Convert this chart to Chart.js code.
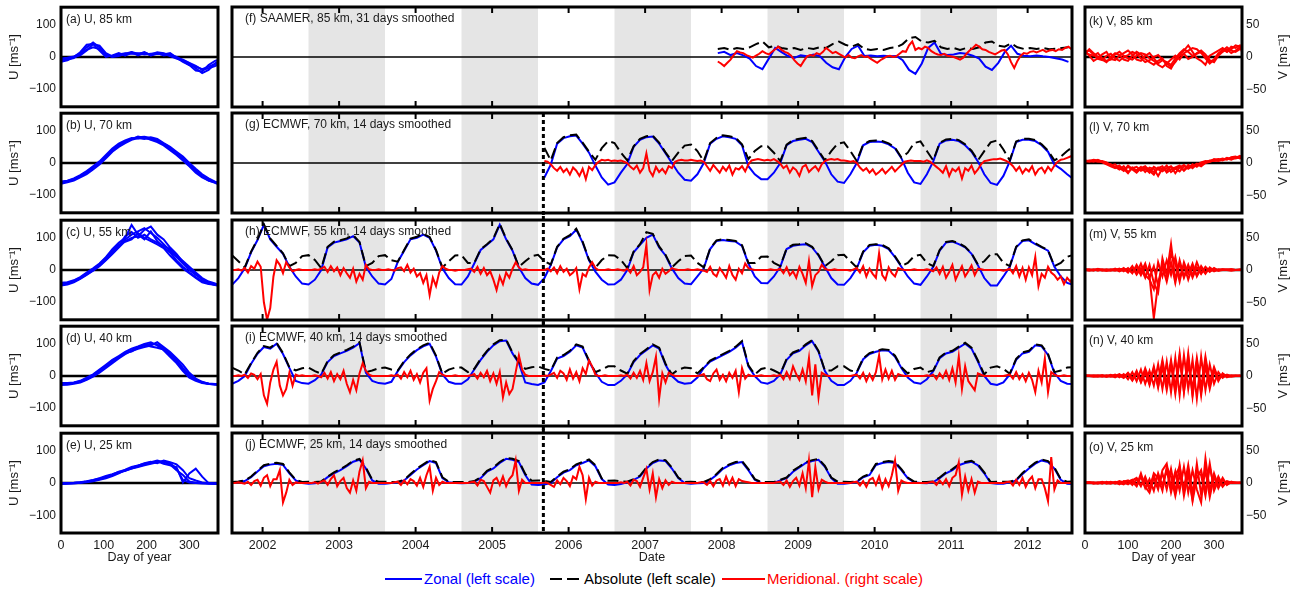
<!DOCTYPE html>
<html>
<head>
<meta charset="utf-8">
<script src="https://cdn.jsdelivr.net/npm/chart.js@4.4.0/dist/chart.umd.min.js"></script>
<style>
  body { margin: 0; background: #fff; }
  #fig { position: relative; width: 1299px; height: 593px; overflow: hidden; font-family: 'Liberation Sans', Arial, Helvetica, sans-serif; }
  #fig canvas { position: absolute; }
  .ls { position: absolute; height: 2px; }
  .lt { position: absolute; font-size: 15px; line-height: 18px; white-space: nowrap; }
</style>
</head>
<body>
<div id="fig">
  <div class="ls" style="left:385px;top:578px;width:37px;background:#0000ff"></div>
  <div class="lt" style="left:424px;top:570px;color:#0000ff">Zonal (left scale)</div>
  <div class="ls" style="left:550px;top:578px;width:29px;background:repeating-linear-gradient(90deg,#000 0 12px,transparent 12px 17px)"></div>
  <div class="lt" style="left:584px;top:570px;color:#000">Absolute (left scale)</div>
  <div class="ls" style="left:722px;top:578px;width:43px;background:#ff0000"></div>
  <div class="lt" style="left:767px;top:570px;color:#ff0000">Meridional. (right scale)</div>
</div>
<script>
// ================================
// DATA
// ================================

// time axis (year ticks), shaded years, start of the ECMWF 70 km record
const yearTicks = [2002, 2003, 2004, 2005, 2006, 2007, 2008, 2009, 2010, 2011, 2012];
const shadeStarts = [2002.6, 2004.6, 2006.6, 2008.6, 2010.6];
const splitYear = 2005.67;

// sampling of the time series: zonal/absolute monthly, meridional half-monthly
const ecmwfStart = 2001.6;
const ecmwf70Start = 2005.6833;
const saamerStart = 2007.95;
const monthStep = 1 / 12;
const halfMonthStep = 1 / 24;

// day-of-year grids for the side panels
const doyU = [0, 15, 30, 45, 60, 75, 90, 105, 120, 135, 150, 165, 180, 195, 210, 225, 240, 255, 270, 285, 300, 315, 330, 345, 360, 365];
const doyV = [0, 10, 20, 30, 40, 50, 60, 70, 80, 90, 100, 110, 120, 130, 140, 150, 160, 170, 180, 190, 200, 210, 220, 230, 240, 250, 260, 270, 280, 290, 300, 310, 320, 330, 340, 350, 360, 365];

// (a)-(e) zonal wind by day of year, several years overlaid
const u85 = [
  [-12,-8,-3,10,30,45,30,5,2,8,12,10,12,8,10,12,5,8,0,-10,-20,-35,-50,-40,-20,-15],
  [-15,-10,0,15,38,40,20,0,5,12,5,15,10,14,5,12,10,3,-5,-12,-25,-30,-38,-30,-22,-20],
  [-5,-2,2,10,22,30,25,8,0,3,10,15,5,12,8,15,12,5,-3,-8,-18,-28,-40,-35,-28,-25],
  [-10,-5,0,5,20,40,35,12,2,10,5,12,8,15,5,10,8,12,-2,-15,-25,-42,-45,-25,-12,-10]
];
const u70 = [
  [-62,-58,-52,-42,-30,-15,0,20,40,55,68,75,80,82,78,70,60,48,30,15,-5,-22,-40,-52,-60,-62],
  [-58,-55,-48,-38,-25,-10,5,25,45,60,70,78,76,80,72,65,55,40,25,8,-10,-30,-45,-55,-62,-65],
  [-65,-60,-55,-45,-35,-20,-5,15,35,50,62,72,78,75,80,75,62,50,35,20,0,-18,-35,-48,-58,-60],
  [-60,-56,-50,-40,-28,-12,2,18,38,58,66,74,82,78,74,68,58,45,28,10,-8,-25,-42,-55,-60,-63]
];
const u55 = [
  [-45,-42,-35,-25,-12,0,15,35,55,75,95,110,120,130,115,100,80,60,40,20,0,-15,-28,-38,-44,-45],
  [-40,-38,-32,-22,-8,5,20,40,65,85,100,140,110,95,120,90,70,55,30,10,-8,-22,-35,-42,-46,-46],
  [-48,-45,-38,-28,-15,-2,12,30,50,70,90,100,105,125,135,110,95,70,50,25,5,-12,-30,-40,-47,-48],
  [-44,-40,-33,-24,-10,3,18,38,60,78,88,95,115,100,90,80,68,45,25,5,-10,-25,-38,-44,-46,-44],
  [-46,-43,-36,-26,-14,-1,14,32,52,72,105,118,100,110,95,85,75,65,45,28,10,-8,-25,-36,-42,-45]
];
const u40 = [
  [-25,-24,-22,-18,-10,0,15,30,45,60,70,80,90,95,100,98,85,70,50,25,5,-10,-20,-24,-25,-25],
  [-22,-22,-20,-15,-5,5,20,35,50,62,75,85,92,100,105,95,80,60,40,15,-5,-15,-22,-25,-26,-24],
  [-28,-27,-24,-20,-12,-2,10,25,40,55,68,78,85,90,95,105,90,75,55,35,10,-8,-18,-24,-27,-28],
  [-24,-23,-21,-16,-8,3,18,32,48,58,72,76,88,98,92,88,82,65,45,20,0,-12,-20,-23,-25,-25]
];
const u25 = [
  [-2,-1,0,2,4,8,12,18,25,32,38,45,50,55,60,65,68,62,45,10,2,0,-1,-2,-2,-3],
  [0,0,1,3,6,10,15,22,28,35,42,50,55,60,65,70,65,58,40,25,5,1,0,0,-1,0],
  [-3,-2,-1,1,3,6,10,15,22,30,40,45,52,58,62,68,60,55,50,2,30,45,20,0,-2,-2],
  [-1,0,0,2,5,9,14,20,26,35,38,48,54,62,66,62,70,65,58,40,15,8,2,-1,-1,-2]
];

// (k)-(o) meridional wind by day of year
const v85 = [
  [8,10,4,-3,-5,2,5,-2,-6,0,3,8,5,-2,-8,-5,0,3,-4,-10,-15,-8,2,5,-3,0,6,10,4,-5,-8,2,8,12,6,10,15,12],
  [5,12,6,0,-4,-8,0,6,3,-4,-6,2,8,4,-3,-8,-12,-6,-2,-14,-18,-6,4,10,18,8,-2,-6,-12,2,6,10,14,8,12,18,16,10],
  [10,2,-6,-2,4,8,-3,-5,2,6,10,4,-4,-6,2,6,-2,-10,-5,-8,-12,-2,6,12,8,2,5,8,-2,-10,-4,6,10,15,10,8,12,14],
  [6,4,2,6,-2,-6,-4,4,8,2,-2,-4,2,6,4,-2,-6,-12,-16,-10,-4,2,-4,6,10,14,12,6,0,-8,-4,4,12,8,16,14,18,8]
];
const v70 = [
  [3,2,4,3,1,-2,-5,-8,-4,-12,-6,-10,-15,-8,-5,-12,-18,-7,-10,-4,-14,-9,-6,-11,-3,-8,-2,-5,0,2,4,3,5,6,8,7,9,10],
  [4,3,2,5,2,0,-3,-6,-10,-5,-14,-8,-6,-12,-9,-15,-6,-10,-13,-8,-5,-16,-7,-3,-9,-5,-1,-3,2,3,5,6,4,8,6,9,8,12],
  [2,4,3,2,3,1,-4,-2,-8,-12,-4,-9,-11,-6,-14,-7,-9,-20,-8,-12,-6,-9,-13,-5,-8,-2,-6,0,1,4,3,5,7,5,9,10,7,8],
  [3,3,5,4,2,-1,-2,-7,-5,-9,-16,-7,-12,-10,-7,-10,-14,-8,-5,-15,-10,-7,-4,-12,-6,-4,-3,1,3,2,6,4,6,7,5,8,11,9]
];
const v55 = [
  [0,1,-1,2,0,-1,1,0,2,-2,3,-4,5,-8,6,-10,-75,-20,8,-6,40,-15,10,-12,6,-8,12,-5,4,-3,2,-1,1,0,1,0,0,0],
  [1,0,1,-1,1,0,-1,2,-1,3,-3,6,-5,10,-8,-15,-30,12,-10,15,-8,20,-12,8,-15,5,-8,6,-4,2,-2,1,0,1,0,0,1,0],
  [0,-1,0,1,-1,1,0,-1,1,2,-4,4,-7,3,-12,8,-20,-35,18,-8,25,10,-18,12,-6,10,-10,3,-6,4,-1,0,1,0,-1,0,0,0],
  [1,0,0,1,0,-1,0,1,-2,1,2,-5,8,-4,10,-12,6,-25,5,-18,12,-20,15,-10,8,-12,4,-6,5,-2,3,-1,0,0,1,0,0,1]
];
const v40 = [
  [0,1,0,-1,1,0,2,-1,1,-3,4,-6,8,-10,5,-12,15,-18,20,-15,25,-22,30,-25,35,-28,20,-30,25,-15,10,-8,4,-2,1,0,0,0],
  [1,0,-1,0,1,-1,0,2,-2,3,-5,6,-8,10,-12,8,-15,18,-20,22,-25,28,-30,32,-20,25,-35,30,-22,18,-12,6,-3,2,0,1,0,0],
  [0,0,1,0,-1,1,-1,0,3,-2,5,-4,6,-9,12,-6,10,-16,14,-22,18,-28,25,-18,30,-32,22,-25,15,-20,8,-5,2,-1,0,0,1,0],
  [1,0,0,1,0,-1,1,-2,2,-1,3,-7,4,-5,9,-14,12,-10,25,-12,20,-18,35,-24,18,-20,28,-18,30,-10,14,-4,3,0,-1,0,0,0]
];
const v25 = [
  [0,1,0,1,-1,2,0,1,-2,3,2,5,-4,15,-6,-15,8,-10,20,30,-8,18,-12,25,-15,20,-10,-30,38,-12,15,-5,8,-3,2,0,1,0],
  [1,0,1,-1,1,0,2,-1,1,2,4,-3,6,-5,10,-8,12,-6,15,-10,22,-14,28,-20,15,-25,30,-18,20,-22,10,-8,5,-2,1,0,0,0],
  [0,1,-1,0,2,-1,1,0,3,1,-2,4,8,-3,5,-10,15,8,-12,25,10,-20,12,-8,28,-15,18,12,-20,25,-6,10,-4,3,1,0,0,1],
  [1,1,0,0,1,0,-1,2,0,-2,3,2,-5,10,-8,6,-12,15,-4,20,-15,12,25,-10,18,-28,8,20,-14,30,-12,5,-6,2,0,1,0,0]
];

// (f) SAAMER 85 km, from saamerStart
const zonal85 = [12,16,6,12,5,-5,-28,-38,-5,28,15,3,-3,5,2,8,3,-18,-32,-38,0,25,35,3,5,2,4,2,3,-10,-40,-52,-20,28,45,10,6,8,12,10,4,-5,-30,-40,-18,15,35,10,4,2,5,2,0,-4,-8,-15];
const absolute85 = [25,28,22,28,25,30,40,48,30,35,28,25,28,22,28,25,30,28,40,48,38,32,40,25,22,25,22,28,30,40,58,62,48,45,50,30,25,28,22,28,25,30,45,48,35,32,42,30,25,28,25,28,24,26,28,30];
const meridional85 = [-7,-10,-14,-9,-4,3,9,7,6,3,1,-1,2,5,9,6,4,8,12,16,11,8,6,2,-5,-10,-14,-6,1,3,2,6,4,8,14,10,6,8,5,2,-1,3,-1,-2,1,3,0,1,-3,-6,-9,-5,-2,1,2,0,1,5,9,8,18,24,11,14,12,16,14,9,6,4,3,5,2,1,0,-2,-4,-1,5,10,14,19,16,12,11,8,6,4,7,10,11,4,-8,-17,-6,2,6,5,8,9,7,9,11,8,10,11,9,12,11,14,16,12];

// (g) ECMWF 70 km, from ecmwf70Start
const zonal70 = [
  -45,-5,60,77,83,85,60,32,-8,-45,-67,
  -60,-30,-3,50,72,80,82,60,30,0,-30,-52,
  -55,-35,0,60,75,83,80,75,55,-10,-35,-50,
  -50,-30,0,55,68,72,75,65,35,5,-35,-58,
  -62,-35,0,55,65,67,65,58,45,15,-30,-60,
  -65,-35,5,60,70,72,68,55,35,5,-35,-62,
  -68,-40,5,65,72,72,68,55,35,-5,-18,-35,
  -50];
const absolute70 = [
  47,8,62,80,86,88,63,35,10,46,68,
  62,32,8,52,75,83,85,63,33,6,32,54,
  57,37,6,62,78,86,83,78,58,12,37,52,
  52,32,6,57,71,75,78,68,38,8,37,60,
  64,37,6,57,68,70,68,61,48,17,32,62,
  67,37,8,62,73,75,71,58,38,8,37,64,
  70,42,8,67,75,75,71,58,38,8,20,37,
  52];
const meridional70 = [
  3,2,-2,-8,-12,-6,-14,-9,-18,-7,-12,-20,-9,-25,-6,-11,-3,2,5,4,5,3,
  4,3,4,2,0,-6,-10,-4,-15,-8,15,-12,-20,-6,-14,-9,-16,-5,-8,2,4,5,4,4,
  5,4,3,4,2,-5,-12,-3,-9,-15,-6,-12,-4,-18,-8,-10,-5,-13,-2,4,5,6,5,4,
  5,4,6,3,-1,-8,-4,-15,-7,-11,-20,-6,-3,-14,-9,-5,-12,-2,3,5,6,5,6,4,
  4,3,2,3,0,-7,-12,-8,-15,-10,-18,-14,-9,-16,-11,-6,-13,-8,-3,2,3,4,3,3,
  3,2,4,2,-2,-6,-10,-15,-5,-20,-9,-13,-7,-24,-8,-12,-4,-16,-10,-2,3,4,5,6,
  6,7,5,3,0,-5,-12,-6,-16,-9,-13,-5,-18,-10,-7,-15,-6,-12,-4,2,5,6,8,10,
  12];

// (h) ECMWF 55 km, from ecmwfStart
const zonal55 = [
  -46,-25,5,55,93,140,95,72,50,10,-20,-42,
  -45,-30,0,70,85,90,95,105,85,10,-20,-42,
  -45,-28,25,60,95,100,110,100,60,5,-25,-44,
  -45,-20,20,62,78,95,140,95,60,8,-25,-42,
  -46,-25,15,70,95,105,125,85,30,-5,-30,-45,
  -44,-30,0,55,78,100,110,70,45,5,-25,-42,
  -44,-20,5,65,90,93,90,88,75,20,-20,-40,
  -41,-20,10,65,75,78,80,70,45,10,-25,-45,
  -46,-25,5,55,75,78,75,65,40,10,-20,-42,
  -46,-20,10,60,85,88,80,70,50,15,-25,-48,
  -48,-20,10,70,90,92,80,70,60,10,-20,-40,
  -46];
const absolute55 = [
  46,27,8,57,95,142,98,75,52,12,22,43,
  46,31,6,72,88,92,98,108,87,12,22,43,
  46,30,26,62,97,103,112,102,62,8,27,45,
  46,22,22,64,80,98,143,97,62,10,27,43,
  47,27,17,72,97,108,128,88,32,7,31,46,
  45,31,6,57,80,117,112,73,47,8,27,43,
  45,22,8,67,92,95,93,90,77,22,22,41,
  42,22,12,67,78,80,83,72,47,12,27,46,
  47,27,8,57,78,80,78,67,42,12,22,43,
  47,22,12,62,87,90,83,72,52,17,27,49,
  49,22,12,72,92,95,83,72,62,12,22,41,
  47];
const meridional55 = [
  0,0,1,-1,3,-4,6,2,13,5,-50,-77,-59,-10,15,8,-5,12,4,-2,0,1,0,0,
  0,0,1,0,2,5,-3,6,-2,4,-8,3,-5,-12,2,-18,-6,-15,8,1,0,0,1,0,
  0,1,0,-1,3,4,-2,8,-4,2,-10,-5,-20,-8,-39,-12,-25,-4,6,2,0,0,-1,0,
  0,0,1,2,-3,5,-6,3,-8,-2,-15,-31,-10,-22,-4,-12,2,12,4,0,1,0,0,0,
  0,0,0,2,-2,4,-5,6,-3,2,-8,-4,3,-30,-6,-10,4,12,3,0,0,0,1,0,
  0,1,0,-1,2,-4,6,-8,-3,4,39,-31,-8,-3,-12,2,-6,-2,3,1,0,0,0,1,
  0,0,1,0,-1,-3,5,-6,-10,3,-4,-12,6,-8,-15,2,-5,10,3,1,0,0,0,0,
  0,1,0,0,2,-5,4,-8,-2,-12,5,-6,-20,14,-25,-8,-3,8,2,0,0,1,0,0,
  0,0,-1,1,3,-4,6,-10,2,-6,-12,26,-8,-15,4,-5,-10,3,1,0,0,0,1,0,
  0,0,1,0,-2,4,-6,5,-12,-3,8,-15,-4,6,-10,-2,7,-8,2,1,0,0,0,0,
  0,0,-1,0,2,-5,6,-10,3,-15,4,-8,20,-25,-6,-12,5,-4,-8,-15,-10,-22,-12,-18,
  -10];

// (i) ECMWF 40 km, from ecmwfStart
const zonal40 = [
  -24,-15,0,38,69,90,85,100,68,25,-15,-22,
  -24,-13,5,43,62,70,78,88,102,10,-15,-22,
  -24,-18,15,43,64,80,92,100,60,5,-18,-24,
  -24,-10,20,50,75,95,108,110,70,40,-20,-25,
  -28,-20,15,54,62,75,95,88,45,10,-18,-28,
  -28,-15,5,43,65,80,95,85,35,0,-18,-24,
  -22,-5,25,45,55,65,75,88,105,30,0,-20,
  -24,-15,5,50,70,78,95,108,75,15,-15,-28,
  -28,-15,10,52,68,75,80,78,60,25,-5,-20,
  -24,-10,15,55,70,75,88,100,85,45,0,-24,
  -28,-20,5,50,70,75,95,92,65,10,-15,-24,
  -25];
const absolute40 = [
  26,17,5,40,72,93,88,103,71,27,17,24,
  26,15,7,46,65,73,81,91,105,12,17,24,
  26,20,17,46,67,83,95,103,63,7,20,26,
  26,12,22,53,78,98,111,113,73,43,22,27,
  30,22,17,57,65,78,98,91,48,12,20,30,
  30,17,7,46,68,83,98,88,38,5,20,26,
  24,8,27,48,58,68,78,91,108,33,5,22,
  26,17,7,53,73,81,98,111,78,17,17,30,
  30,17,12,55,71,78,83,81,63,27,8,22,
  26,12,17,58,73,78,91,103,88,48,5,26,
  30,22,7,53,73,78,98,95,68,12,17,26,
  27];
const meridional40 = [
  0,0,1,0,2,-3,4,2,-5,3,-30,-43,-10,10,22,-15,-30,-20,5,-15,2,0,1,0,
  0,0,1,0,-2,5,-4,6,-8,3,-5,8,-12,-25,-6,-22,4,20,8,2,0,0,0,0,
  0,0,1,0,2,-4,6,-2,8,-6,3,-10,5,12,-38,-20,-8,6,2,0,0,0,1,0,
  0,0,0,1,3,-4,5,-2,8,-8,4,-12,6,-33,-10,-28,-20,6,32,10,2,0,0,0,
  0,0,1,0,2,5,-3,8,4,-6,10,-4,6,-8,12,3,24,15,2,0,0,1,0,0,
  0,0,1,0,2,-4,5,-3,8,-6,20,-8,6,30,-35,4,-10,5,2,0,0,0,0,0,
  0,0,0,1,3,-5,-8,4,10,-6,2,-8,5,-3,8,-25,12,-4,2,0,0,0,1,0,
  0,0,1,0,2,-5,6,-4,15,3,-6,10,-8,28,-30,18,-33,5,2,0,0,0,0,0,
  0,0,0,1,2,-4,5,-8,3,-6,6,32,-5,10,-4,8,-6,3,1,0,0,0,0,0,
  0,0,1,0,2,-5,4,-3,8,-6,12,-10,30,-20,15,-8,-15,-22,4,2,0,0,0,0,
  0,0,0,1,2,-4,6,-5,3,-8,5,-6,-25,8,-10,27,-25,6,2,0,0,1,0,0,
  0];

// (j) ECMWF 25 km, from ecmwfStart
const zonal25 = [
  0,3,6,18,36,52,57,60,56,30,8,0,
  -2,-1,3,18,30,40,52,66,72,45,8,-2,
  -2,0,2,8,25,42,55,68,62,15,2,0,
  -1,0,4,15,35,45,62,75,72,65,25,-5,
  -6,-5,0,18,32,40,55,62,70,52,12,-5,
  -6,-3,2,10,20,45,62,70,68,45,15,0,
  -2,-1,0,10,25,44,55,62,65,40,10,0,
  0,0,8,15,35,48,62,68,72,50,15,-2,
  -2,0,3,18,25,56,62,65,62,40,15,2,
  0,-1,3,15,30,40,55,62,66,55,30,0,
  -2,-2,2,8,28,45,60,70,65,45,10,-2,
  -3];
const absolute25 = [
  3,5,8,20,38,55,60,63,59,33,10,3,
  4,3,5,20,33,43,55,69,75,48,10,4,
  4,3,4,10,28,45,58,71,65,18,4,3,
  3,3,6,17,38,48,65,78,75,68,28,7,
  8,7,3,20,35,43,58,65,73,55,14,7,
  8,5,4,12,23,48,65,73,71,48,17,3,
  4,3,3,12,28,47,58,65,68,43,12,3,
  3,3,10,17,38,51,65,71,75,53,17,4,
  4,3,5,20,28,59,65,68,65,43,17,4,
  3,3,5,17,33,43,58,65,69,58,33,3,
  4,4,4,10,31,48,63,73,68,48,12,4,
  5];
const meridional25 = [
  0,0,1,0,-1,2,-3,3,5,-4,8,12,-5,6,6,20,-30,-15,5,-3,1,0,0,0,
  0,0,1,-1,2,4,-3,6,12,-5,3,8,-8,-15,4,-12,18,35,-8,2,0,0,0,0,
  0,0,0,1,2,-3,4,-2,6,3,-4,8,-6,12,25,-12,8,-3,2,0,0,0,0,0,
  0,0,0,1,2,-4,5,3,-6,-15,4,8,-3,10,-5,6,12,35,-12,5,0,0,0,0,
  0,0,1,0,-3,-6,4,-2,8,3,-5,10,6,25,12,-25,8,-4,2,0,0,0,0,0,
  0,0,1,0,2,-4,5,3,-6,8,22,-10,15,-22,6,-8,4,-3,2,0,0,0,0,0,
  0,0,0,1,1,-3,3,-5,4,6,-4,10,-2,8,-5,6,3,2,1,0,0,0,0,0,
  0,0,0,1,2,-3,4,-6,3,8,-4,15,-8,35,-22,25,-10,5,2,0,0,0,0,0,
  0,0,0,1,2,-4,3,-6,5,8,-3,10,-8,6,-5,12,35,-12,4,1,0,0,0,0,
  0,0,0,1,2,-3,4,-2,6,-5,8,12,32,-18,10,-12,6,-15,2,0,0,0,0,0,
  0,0,0,1,2,-4,5,-3,8,-6,4,10,-8,6,6,-8,-28,40,-10,4,0,0,0,0,
  0];

// ================================
// LAYOUT
// ================================

const ROW_TOP = [7, 113, 220, 326, 433];
const ROW_H = 100;
const COLS = {
  left: { x: 61, w: 157 },
  mid: { x: 232, w: 840 },
  right: { x: 1085, w: 157 }
};
const FONT = "'Liberation Sans', Arial, Helvetica, sans-serif";
const INK = '#1a1a1a';

Chart.defaults.font.family = FONT;
Chart.defaults.font.size = 12;
Chart.defaults.color = INK;

const minus = v => (v < 0 ? '\u2212' + Math.abs(v) : String(v));
const pts = (t0, step, vals) => vals.map((y, i) => ({ x: t0 + i * step, y }));
const onGrid = (days, vals) => vals.map((y, i) => ({ x: days[i], y }));

function addCanvas(x, y, w, h) {
  const c = document.createElement('canvas');
  c.width = w;
  c.height = h;
  c.style.left = x + 'px';
  c.style.top = y + 'px';
  c.style.width = w + 'px';
  c.style.height = h + 'px';
  document.getElementById('fig').appendChild(c);
  return c;
}

// shading, zero line, dotted split line, inward ticks, frame, panel label
const decor = {
  id: 'decor',
  beforeDatasetsDraw(chart, args, o) {
    const { ctx, chartArea: a, scales } = chart;
    ctx.save();
    ctx.beginPath();
    ctx.rect(a.left, a.top, a.width, a.height);
    ctx.clip();
    if (o.shade) {
      ctx.fillStyle = '#e5e5e5';
      shadeStarts.forEach(s => {
        const x1 = scales.x.getPixelForValue(s);
        const x2 = scales.x.getPixelForValue(s + 1);
        ctx.fillRect(x1, a.top, x2 - x1, a.height);
      });
    }
    const y0 = scales.y.getPixelForValue(0);
    ctx.strokeStyle = '#000';
    ctx.lineWidth = o.zeroWidth;
    ctx.beginPath();
    ctx.moveTo(a.left, y0);
    ctx.lineTo(a.right, y0);
    ctx.stroke();
    ctx.restore();
  },
  afterDatasetsDraw(chart, args, o) {
    const { ctx, chartArea: a, scales } = chart;
    ctx.save();
    if (o.dotted) {
      const x = scales.x.getPixelForValue(splitYear);
      ctx.strokeStyle = '#000';
      ctx.lineWidth = 3;
      ctx.setLineDash([4, 3]);
      ctx.beginPath();
      ctx.moveTo(x, a.top - o.dotted[0]);
      ctx.lineTo(x, a.bottom + o.dotted[1]);
      ctx.stroke();
      ctx.setLineDash([]);
    }
    if (o.yearTicks) {
      ctx.strokeStyle = '#000';
      ctx.lineWidth = 2;
      yearTicks.forEach(yr => {
        const x = scales.x.getPixelForValue(yr);
        ctx.beginPath();
        ctx.moveTo(x, a.top);
        ctx.lineTo(x, a.top + 6);
        ctx.moveTo(x, a.bottom);
        ctx.lineTo(x, a.bottom - 6);
        ctx.stroke();
      });
    }
    ctx.strokeStyle = '#000';
    ctx.lineWidth = 3;
    ctx.strokeRect(a.left, a.top, a.width, a.height);

    ctx.fillStyle = INK;
    ctx.font = '12px ' + FONT;
    ctx.textBaseline = 'middle';
    ctx.textAlign = 'left';
    ctx.fillText(o.title, a.left + o.tx, a.top + o.ty);

    if (o.vTitle) {
      ctx.translate(a.right + 41, a.top + a.height / 2);
      ctx.rotate(-Math.PI / 2);
      ctx.textAlign = 'center';
      ctx.font = '13px ' + FONT;
      ctx.fillText('V [ms\u207B\u00B9]', 0, 0);
    }
    ctx.restore();
  }
};

// ================================
// SIDE PANELS (day of year)
// ================================

function sidePanel(col, row, title, curves, days, color, yMax, yTicks, showX) {
  const isLeft = col === 'left';
  const L = isLeft ? 61 : 12;
  const R = isLeft ? 12 : 57;
  const T = 12;
  const B = showX ? 34 : 12;
  const c = COLS[col];
  const canvas = addCanvas(c.x - L, ROW_TOP[row] - T, c.w + L + R, ROW_H + T + B);

  return new Chart(canvas, {
    type: 'line',
    data: {
      datasets: curves.map(v => ({
        data: onGrid(days, v),
        borderColor: color,
        borderWidth: 2,
        pointRadius: 0,
        tension: 0,
        fill: false
      }))
    },
    options: {
      responsive: false,
      animation: false,
      events: [],
      layout: { padding: { left: isLeft ? 0 : L, right: isLeft ? R : 0, top: T, bottom: showX ? 0 : B } },
      scales: {
        x: {
          type: 'linear',
          min: 0,
          max: isLeft ? 367 : 365,
          display: showX,
          afterFit: s => { s.height = showX ? B : 0; },
          afterBuildTicks: s => { s.ticks = [0, 100, 200, 300].map(value => ({ value })); },
          grid: { display: false, drawTicks: false },
          border: { display: false },
          ticks: { padding: 5, font: { size: 12.5 }, callback: v => String(v) },
          title: { display: true, text: 'Day of year', font: { size: 12.5 }, padding: { top: 0, bottom: 2 } }
        },
        y: {
          type: 'linear',
          position: isLeft ? 'left' : 'right',
          min: -yMax,
          max: yMax,
          afterFit: s => { s.width = isLeft ? L : R; },
          afterBuildTicks: s => { s.ticks = yTicks.map(value => ({ value })); },
          grid: { display: false, drawTicks: false },
          border: { display: false },
          ticks: { padding: isLeft ? 5 : 4, font: { size: 12 }, callback: minus },
          title: { display: isLeft, text: 'U [ms\u207B\u00B9]', font: { size: 13 }, padding: { top: 7, bottom: 0 } }
        }
      },
      plugins: {
        legend: { display: false },
        tooltip: { enabled: false },
        decor: { title, tx: isLeft ? 5 : 4, ty: isLeft ? 12 : 15, zeroWidth: 2.5, vTitle: !isLeft }
      }
    },
    plugins: [decor]
  });
}

// ================================
// TIME SERIES PANELS
// ================================

function midPanel(row, title, zon, abs, mer, tZ, tM, showX, dotted) {
  const L = 6, R = 6, T = 4;
  const B = showX ? 34 : 4;
  const c = COLS.mid;
  const canvas = addCanvas(c.x - L, ROW_TOP[row] - T, c.w + L + R, ROW_H + T + B);
  const line = { borderWidth: 2, pointRadius: 0, tension: 0, fill: false };

  return new Chart(canvas, {
    type: 'line',
    data: {
      datasets: [
        { ...line, data: pts(tM, halfMonthStep, mer), borderColor: '#ff0000', yAxisID: 'y2' },
        { ...line, data: pts(tZ, monthStep, abs), borderColor: '#000000', borderDash: [11, 5], yAxisID: 'y' },
        { ...line, data: pts(tZ, monthStep, zon), borderColor: '#0000ff', yAxisID: 'y' }
      ]
    },
    options: {
      responsive: false,
      animation: false,
      events: [],
      layout: { padding: { left: L, right: R, top: T, bottom: showX ? 0 : B } },
      scales: {
        x: {
          type: 'linear',
          min: 2001.6,
          max: 2012.58,
          display: showX,
          afterFit: s => { s.height = showX ? B : 0; },
          afterBuildTicks: s => { s.ticks = yearTicks.map(value => ({ value })); },
          grid: { display: false, drawTicks: false },
          border: { display: false },
          ticks: { padding: 5, font: { size: 12.5 }, callback: v => String(v) },
          title: { display: true, text: 'Date', font: { size: 12.5 }, padding: { top: 0, bottom: 2 } }
        },
        y: { type: 'linear', display: false, min: -155, max: 155 },
        y2: { type: 'linear', display: false, min: -77.5, max: 77.5 }
      },
      plugins: {
        legend: { display: false },
        tooltip: { enabled: false },
        decor: { title, tx: 13, ty: 12, zeroWidth: 1.5, shade: true, yearTicks: true, dotted }
      }
    },
    plugins: [decor]
  });
}

// ================================
// BUILD FIGURE
// ================================

const U_TICKS = [-100, 0, 100];
const V_TICKS = [-50, 0, 50];

sidePanel('left', 0, '(a) U, 85 km', u85, doyU, '#0000ff', 155, U_TICKS, false);
sidePanel('left', 1, '(b) U, 70 km', u70, doyU, '#0000ff', 155, U_TICKS, false);
sidePanel('left', 2, '(c) U, 55 km', u55, doyU, '#0000ff', 155, U_TICKS, false);
sidePanel('left', 3, '(d) U, 40 km', u40, doyU, '#0000ff', 155, U_TICKS, false);
sidePanel('left', 4, '(e) U, 25 km', u25, doyU, '#0000ff', 155, U_TICKS, true);

midPanel(0, '(f) SAAMER, 85 km, 31 days smoothed', zonal85, absolute85, meridional85, saamerStart, saamerStart, false, null);
midPanel(1, '(g) ECMWF, 70 km, 14 days smoothed', zonal70, absolute70, meridional70, ecmwf70Start, ecmwf70Start, false, [0, 4]);
midPanel(2, '(h) ECMWF, 55 km, 14 days smoothed', zonal55, absolute55, meridional55, ecmwfStart, ecmwfStart, false, [4, 4]);
midPanel(3, '(i) ECMWF, 40 km, 14 days smoothed', zonal40, absolute40, meridional40, ecmwfStart, ecmwfStart, false, [4, 4]);
midPanel(4, '(j) ECMWF, 25 km, 14 days smoothed', zonal25, absolute25, meridional25, ecmwfStart, ecmwfStart, true, [4, 0]);

sidePanel('right', 0, '(k) V, 85 km', v85, doyV, '#ff0000', 77.5, V_TICKS, false);
sidePanel('right', 1, '(l) V, 70 km', v70, doyV, '#ff0000', 77.5, V_TICKS, false);
sidePanel('right', 2, '(m) V, 55 km', v55, doyV, '#ff0000', 77.5, V_TICKS, false);
sidePanel('right', 3, '(n) V, 40 km', v40, doyV, '#ff0000', 77.5, V_TICKS, false);
sidePanel('right', 4, '(o) V, 25 km', v25, doyV, '#ff0000', 77.5, V_TICKS, true);
</script>
</body>
</html>
